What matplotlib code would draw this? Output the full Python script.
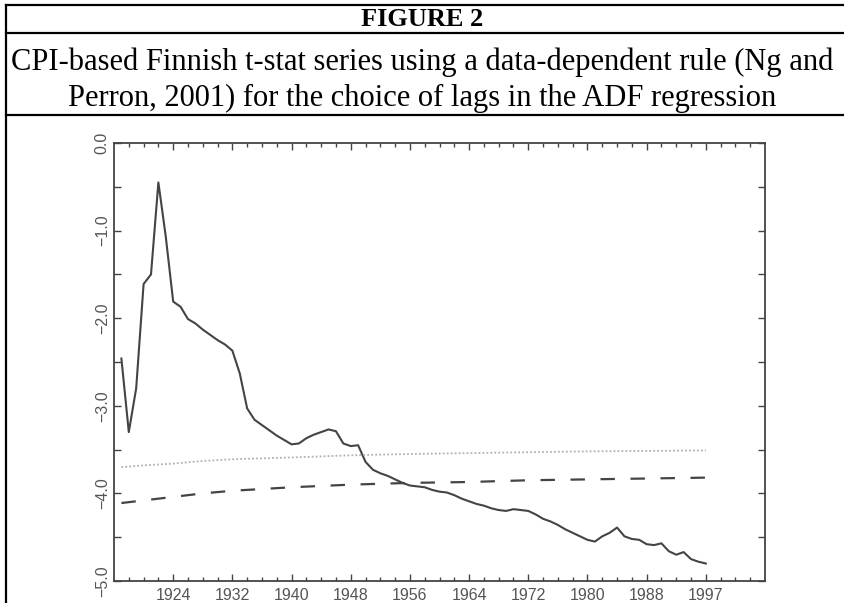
import numpy as np
import matplotlib.pyplot as plt
from matplotlib.lines import Line2D
from matplotlib.ticker import FixedLocator, FuncFormatter

# t-stat series, one value per year (plotted at 1917..1996)
years = np.arange(1917, 1997)
tstat = [-2.46, -3.30, -2.80, -1.61, -1.50, -0.45, -1.07, -1.81, -1.87, -2.01,
         -2.06, -2.13, -2.19, -2.25, -2.30, -2.37, -2.63, -3.03, -3.16, -3.22,
         -3.28, -3.34, -3.39, -3.44, -3.43, -3.37, -3.33, -3.30, -3.27, -3.29,
         -3.43, -3.46, -3.45, -3.64, -3.73, -3.77, -3.80, -3.84, -3.88, -3.91,
         -3.92, -3.93, -3.96, -3.98, -3.99, -4.02, -4.06, -4.09, -4.12, -4.14,
         -4.17, -4.19, -4.20, -4.18, -4.19, -4.20, -4.24, -4.29, -4.32, -4.36,
         -4.41, -4.45, -4.49, -4.53, -4.55, -4.49, -4.45, -4.39, -4.49, -4.52,
         -4.53, -4.58, -4.59, -4.57, -4.66, -4.70, -4.67, -4.75, -4.78, -4.80]

# critical value curves (read at a few years)
cv_years = [1917, 1920, 1924, 1928, 1932, 1940, 1948, 1956, 1964, 1972, 1980, 1988, 1996]
cv_10 = [-3.70, -3.68, -3.66, -3.63, -3.61, -3.59, -3.565, -3.55, -3.54, -3.53, -3.52, -3.515, -3.51]
cv_5 = [-4.11, -4.08, -4.04, -4.00, -3.97, -3.93, -3.90, -3.88, -3.87, -3.85, -3.84, -3.83, -3.82]

xtick_pos = [1924, 1932, 1940, 1948, 1956, 1964, 1972, 1980, 1988, 1996]
xtick_labels = ['1924', '1932', '1940', '1948', '1956', '1964', '1972', '1980', '1988', '1997']

W, H = 844, 603
fig = plt.figure(figsize=(W / 100, H / 100), dpi=100)

# table frame
def hline(y):
    fig.add_artist(Line2D([6 / W, 1], [1 - y / H, 1 - y / H], color='black', lw=1.6,
                          transform=fig.transFigure))

hline(5)
hline(33)
hline(115)
fig.add_artist(Line2D([6 / W, 6 / W], [0, 1 - 5 / H], color='black', lw=1.6,
                      transform=fig.transFigure))

fig.text(0.5, 1 - 19 / H, 'FIGURE 2', ha='center', va='center',
         family='Liberation Serif', weight='bold', fontsize=19)
fig.text(0.5, 1 - 62 / H,
         'CPI-based Finnish t-stat series using a data-dependent rule (Ng and',
         ha='center', va='center', family='Liberation Serif', fontsize=22)
fig.text(0.5, 1 - 98 / H,
         'Perron, 2001) for the choice of lags in the ADF regression',
         ha='center', va='center', family='Liberation Serif', fontsize=22)

ax = fig.add_axes([114 / W, 22 / H, (765 - 114) / W, (581 - 143) / H])
ax.plot(years, tstat, color='#444444', lw=1.5)
ax.plot(cv_years, cv_10, color='#b0b0b0', lw=1.3, linestyle=(0, (1, 1.2)))
ax.plot(cv_years, cv_5, color='#444444', lw=1.6, linestyle=(0, (6.5, 7)))

ax.set_xlim(1916, 2004)
ax.set_ylim(-5, 0)

ax.xaxis.set_major_locator(FixedLocator(xtick_pos))
ax.set_xticklabels(xtick_labels)
ax.xaxis.set_minor_locator(FixedLocator(np.arange(1918, 2004, 2)))
ax.yaxis.set_major_locator(FixedLocator([0, -1, -2, -3, -4, -5]))
ax.yaxis.set_minor_locator(FixedLocator([-0.5, -1.5, -2.5, -3.5, -4.5]))
ax.yaxis.set_major_formatter(FuncFormatter(lambda v, p: ('%.1f' % v).replace('-', '\u2212')))

for lab in ax.get_xticklabels() + ax.get_yticklabels():
    lab.set_family('Liberation Sans')
for lab in ax.get_yticklabels():
    lab.set_rotation(90)
    lab.set_va('center')

ax.tick_params(axis='both', which='both', direction='in', top=True, right=True,
               color='#444444', width=1.0, labelcolor='#555555', labelsize=11.5)
ax.tick_params(axis='x', which='major', length=5, pad=5)
ax.tick_params(axis='x', which='minor', length=3)
ax.tick_params(axis='y', which='both', length=5, pad=3)

for s in ax.spines.values():
    s.set_color('#444444')
    s.set_linewidth(1.3)

fig.savefig('out.png', dpi=100)
